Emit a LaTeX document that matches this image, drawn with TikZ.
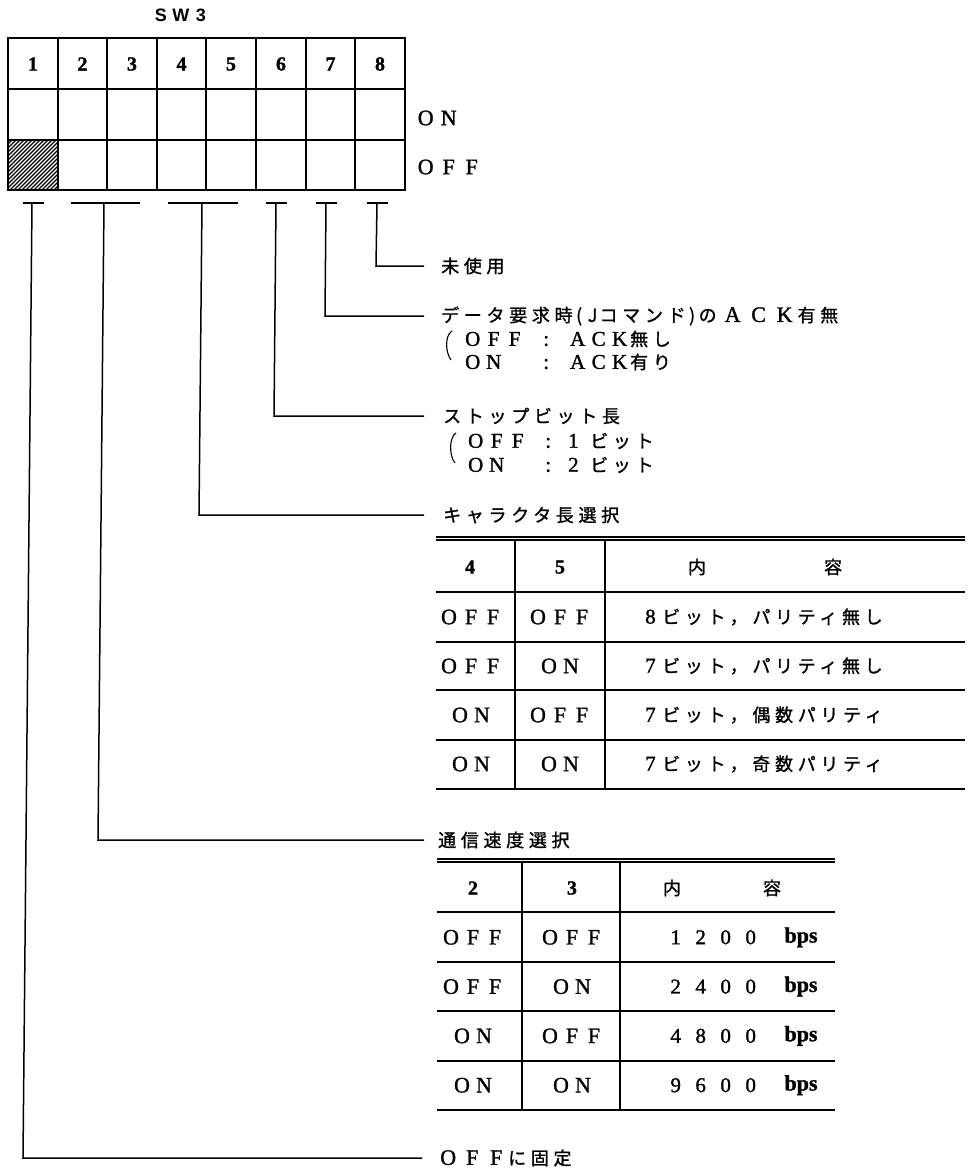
\documentclass[tikz,border=0pt]{standalone}
\usepackage{fontspec}
\setmainfont{Liberation Serif}
\newfontfamily\jp[LetterSpace=26,FakeBold=1.2]{Noto Sans CJK JP}
\newfontfamily\lat[FakeBold=1.3]{Liberation Serif}
\newfontfamily\swf{Liberation Sans}
\newcommand\fwb[2][21pt]{\makebox[#1]{#2}}
\newcommand\jpt{\jp\fontsize{18}{21}\selectfont}
\newcommand\swOFF{\fwb[22pt]{O}\fwb[22pt]{F}\fwb[22pt]{F}}
\newcommand\swON{\fwb[22pt]{O}\fwb[22pt]{N}}
\tikzset{
  lbl/.style={anchor=west,inner sep=0pt,font=\jpt},
  subl/.style={anchor=west,inner sep=0pt,font=\lat\fontsize{21}{23}\selectfont},
  hd/.style={inner sep=0pt,font=\lat\bfseries\fontsize{20}{22}\selectfont},
  cell/.style={inner sep=0pt,font=\lat\fontsize{22}{24}\selectfont},
  jcell/.style={inner sep=0pt,font=\jpt},
  gridline/.style={line width=1.8pt},
  tline/.style={line width=1.3pt},
  conn/.style={line width=1.5pt},
  bar/.style={line width=2.4pt},
}
\begin{document}
\begin{tikzpicture}[x=1pt,y=-1pt]
\useasboundingbox (0,0) rectangle (970,1172);
% title
\node[inner sep=0pt,font=\swf\bfseries\fontsize{18}{20}\selectfont] (sw) at (181,15) {\fwb[20pt]{S}\fwb[20pt]{W}\fwb[20pt]{3}};
% hatched cell
\begin{scope}
\clip (8,140) rectangle (58,190);
\foreach \k in {-56,-52,...,56} \draw[line width=1.1pt] ({8+\k},192) -- ({8+\k+54},138);
\end{scope}
% grid
\foreach \x in {8,58,107,157,206,256,306,355,405} \draw[gridline] (\x,38) -- (\x,190);
\foreach \y in {38,89,140,190} \draw[gridline] (7.1,\y) -- (405.9,\y);
\foreach \x [count=\i] in {33,82.5,132,181.5,231,281,330.5,380} \node[hd] (h\i) at (\x,64) {\i};
\node[cell,anchor=west] (on) at (414,118) {\fwb[23pt]{O}\fwb[23pt]{N}};
\node[cell,anchor=west] (off) at (414,167) {\fwb[23pt]{O}\fwb[23pt]{F}\fwb[23pt]{F}};
% bars
\draw[bar,line width=1.5pt] (23,203) -- (44,203);
\draw[bar] (71,203) -- (140,203);
\draw[bar,line width=1.7pt] (168,203) -- (238,203);
\draw[bar,line width=2pt] (266,203) -- (287,203);
\draw[bar] (316,203) -- (337,203);
\draw[bar] (367,203) -- (388,203);
\coordinate (b1) at (32,203);
\coordinate (b23) at (104,203);
\coordinate (b45) at (202,203);
\coordinate (b6) at (276,203);
\coordinate (b7) at (326,203);
\coordinate (b8) at (377,203);
\coordinate (c1) at (23,1158);
\coordinate (c23) at (98,840);
\coordinate (c45) at (199,515);
\coordinate (c6) at (274,416);
\coordinate (c7) at (325,316);
\coordinate (c8) at (376,266);
% labels
\node[lbl] (l8) at (441,266) {未使用};
\node[lbl] (l7) at (441,316) {データ要求時\makebox[13pt]{(}\makebox[14pt]{J}コマンド\makebox[13pt]{)}の\hspace{3pt}{\lat\fontsize{22}{24}\selectfont\fwb[26pt]{A}\fwb[26pt]{C}\fwb[26pt]{K}}有無};
\node[subl] (s7a) at (462,339) {\fwb{O}\fwb{F}\fwb{F}\makebox[42pt]{:}\fwb{A}\fwb{C}\fwb{K}{\jpt 無し}};
\node[subl] (s7b) at (462,362) {\fwb{O}\fwb{N}\fwb{}\makebox[42pt]{:}\fwb{A}\fwb{C}\fwb{K}{\jpt 有り}};
\draw[line width=1.1pt] (452,331) .. controls (445,335) and (445,352) .. (451,360);
\node[lbl] (l6) at (443,416) {ストップビット長};
\node[subl] (s6a) at (465,441) {\fwb{O}\fwb{F}\fwb{F}\makebox[40pt]{:}\makebox[22pt][l]{1}{\jpt ビット}};
\node[subl] (s6b) at (465,465) {\fwb{O}\fwb{N}\fwb{}\makebox[40pt]{:}\makebox[22pt][l]{2}{\jpt ビット}};
\draw[line width=1.1pt] (456,433) .. controls (449,437) and (449,456) .. (455,463);
\node[lbl] (l45) at (443,515) {キャラクタ長選択};
\node[lbl] (l23) at (438,840) {通信速度選択};
\node[lbl] (l1) at (436,1158) {{\lat\fontsize{22}{24}\selectfont\fwb[24pt]{O}\fwb[24pt]{F}\fwb[24pt]{F}}に固定};
% connectors
\draw[conn] (b8) -- (c8) -- ([xshift=-17pt]l8.west);
\draw[conn] (b7) -- (c7) -- ([xshift=-17pt]l7.west);
\draw[conn] (b6) -- (c6) -- ([xshift=-19pt]l6.west);
\draw[conn] (b45) -- (c45) -- ([xshift=-19pt]l45.west);
\draw[conn] (b23) -- (c23) -- ([xshift=-14pt]l23.west);
\draw[conn] (b1) -- (c1) -- ([xshift=-14pt]l1.west);
% table 1
\draw[tline] (436,537) -- (965,537);
\draw[tline] (436,540) -- (965,540);
\foreach \y in {592,642,690,740,789} \draw[tline] (436,\y) -- (965,\y);
\draw[tline] (515,540) -- (515,789);
\draw[tline] (605,540) -- (605,789);
\node[hd] (t1h1) at (470,567) {4};
\node[hd] (t1h2) at (560,567) {5};
\node[jcell] (t1h3) at (697,567) {内};
\node[jcell] (t1h4) at (833,567) {容};
\foreach \a/\b/\n/\t [count=\r] in {\swOFF/\swOFF/8/ビット，パリティ無し, \swOFF/\swON/7/ビット，パリティ無し, \swON/\swOFF/7/ビット，偶数パリティ, \swON/\swON/7/ビット，奇数パリティ}{
  \node[cell] (t1a\r) at (471,{568+49*\r}) {\a};
  \node[cell] (t1b\r) at (560,{568+49*\r}) {\b};
  \node[jcell,anchor=west] (t1c\r) at (645,{568+49*\r}) {{\lat\fontsize{21}{23}\selectfont\makebox[17pt][l]{\n}}\t};
}
% table 2
\draw[tline] (437,859) -- (835,859);
\draw[tline] (437,862) -- (835,862);
\foreach \y in {912,962,1011,1061,1110} \draw[tline] (437,\y) -- (835,\y);
\draw[tline] (522,862) -- (522,1110);
\draw[tline] (620,862) -- (620,1110);
\node[hd] (t2h1) at (473,888) {2};
\node[hd] (t2h2) at (572,888) {3};
\node[jcell] (t2h3) at (672,888) {内};
\node[jcell] (t2h4) at (772,888) {容};
\foreach \a/\b/\p/\q/\s/\u [count=\r] in {\swOFF/\swOFF/1/2/0/0, \swOFF/\swON/2/4/0/0, \swON/\swOFF/4/8/0/0, \swON/\swON/9/6/0/0}{
  \node[cell] (t2a\r) at (473,{888+49.3*\r}) {\a};
  \node[cell] (t2b\r) at (572,{888+49.3*\r}) {\b};
  \node[cell,anchor=west,font=\lat\fontsize{21}{23}\selectfont] (t2c\r) at (663,{888+49.3*\r}) {\fwb[25pt]{\p}\fwb[25pt]{\q}\fwb[25pt]{\s}\fwb[25pt]{\u}};
  \node[cell,font=\lat\bfseries\fontsize{22}{24}\selectfont] (t2d\r) at (801,{888+49.3*\r}) {bps};
}
\end{tikzpicture}
\end{document}
